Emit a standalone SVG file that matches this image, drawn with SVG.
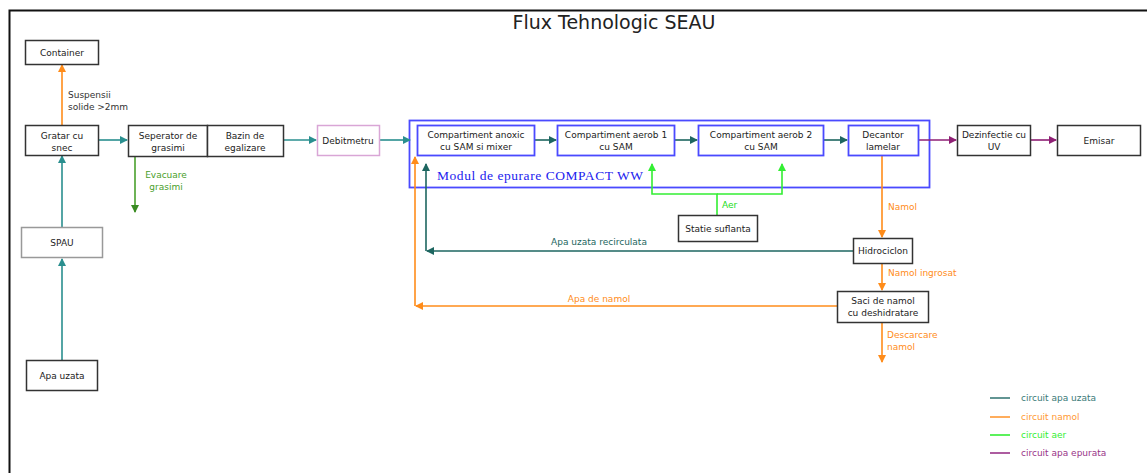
<svg xmlns="http://www.w3.org/2000/svg" width="1147" height="473" viewBox="0 0 1147 473">
<style>
.n{fill:#fff;stroke:#333;stroke-width:1.5}
.g{fill:#fff;stroke:#999;stroke-width:1.5}
.p{fill:#fff;stroke:#d9a6d6;stroke-width:1.5}
.b{fill:#fff;stroke:#4a4aff;stroke-width:1.8}
.t{font-family:"DejaVu Sans",sans-serif;font-size:9px;fill:#222;text-anchor:middle}
.l{font-family:"DejaVu Sans",sans-serif;font-size:9px}
.c{fill:none;stroke-width:1.6}
.teal{stroke:#2a8f8f}.dteal{stroke:#1d6660}.or{stroke:#ff8c1a}.gr{stroke:#33ee33}.eg{stroke:#4aa02c}.pu{stroke:#8e1f74}
</style>
<defs>
<marker id="mt" markerWidth="8" markerHeight="8" refX="7" refY="4" orient="auto" markerUnits="userSpaceOnUse"><path d="M0,0L8,4L0,8z" fill="#2a8f8f"/></marker>
<marker id="md" markerWidth="8" markerHeight="8" refX="7" refY="4" orient="auto" markerUnits="userSpaceOnUse"><path d="M0,0L8,4L0,8z" fill="#1d6660"/></marker>
<marker id="mo" markerWidth="8" markerHeight="8" refX="7" refY="4" orient="auto" markerUnits="userSpaceOnUse"><path d="M0,0L8,4L0,8z" fill="#ff8c1a"/></marker>
<marker id="mg" markerWidth="8" markerHeight="8" refX="7" refY="4" orient="auto" markerUnits="userSpaceOnUse"><path d="M0,0L8,4L0,8z" fill="#33ee33"/></marker>
<marker id="me" markerWidth="8" markerHeight="8" refX="7" refY="4" orient="auto" markerUnits="userSpaceOnUse"><path d="M0,0L8,4L0,8z" fill="#3a8a22"/></marker>
<marker id="mp" markerWidth="8" markerHeight="8" refX="7" refY="4" orient="auto" markerUnits="userSpaceOnUse"><path d="M0,0L8,4L0,8z" fill="#8e1f74"/></marker>
</defs>
<rect width="1147" height="473" fill="#fff"/>
<path d="M9.5,473V10.5H1147" fill="none" stroke="#111" stroke-width="2"/>
<text x="614" y="29" font-family="DejaVu Sans,sans-serif" font-size="19" fill="#222" text-anchor="middle">Flux Tehnologic SEAU</text>

<g id="modul">
<rect x="409.5" y="120.5" width="520" height="67" fill="none" stroke="#4a4aff" stroke-width="1.8"/>
<text x="437" y="180" font-family="Liberation Serif,serif" font-size="13.5" fill="#2222ee" textLength="206">Modul de epurare COMPACT WW</text>
</g>

<g id="connectors">
<path class="c teal" d="M62,360V259" marker-end="url(#mt)"/>
<path class="c teal" d="M62,227V156" marker-end="url(#mt)"/>
<path class="c or" d="M62,125V65" marker-end="url(#mo)"/>
<path class="c teal" d="M99,140H127" marker-end="url(#mt)"/>
<path class="c eg" d="M135,157V212" marker-end="url(#me)"/>
<path class="c teal" d="M283,140H316" marker-end="url(#mt)"/>
<path class="c teal" d="M379,140H410" marker-end="url(#mt)"/>
<path class="c dteal" d="M534,140H556" marker-end="url(#md)"/>
<path class="c dteal" d="M674,140H697" marker-end="url(#md)"/>
<path class="c dteal" d="M823,140H847" marker-end="url(#md)"/>
<path class="c pu" d="M918,140H956" marker-end="url(#mp)"/>
<path class="c pu" d="M1030,140H1056" marker-end="url(#mp)"/>
<path class="c gr" d="M717,215V194H652V164" marker-end="url(#mg)"/>
<path class="c gr" d="M717,194H782V164" marker-end="url(#mg)"/>
<path class="c or" d="M882,156V237" marker-end="url(#mo)"/>
<path class="c dteal" d="M853,251H427" marker-end="url(#md)"/>
<path class="c dteal" d="M426,251V164" marker-end="url(#md)"/>
<path class="c or" d="M882,263V290" marker-end="url(#mo)"/>
<path class="c or" d="M837,306H416" marker-end="url(#mo)"/>
<path class="c or" d="M415,306V157" marker-end="url(#mo)"/>
<path class="c or" d="M882,322V362" marker-end="url(#mo)"/>
<text class="l" x="68" y="98" fill="#333">Suspensii</text>
<text class="l" x="68" y="110" fill="#333">solide &gt;2mm</text>
<text class="l" x="166" y="178" fill="#4aa02c" text-anchor="middle">Evacuare</text>
<text class="l" x="166" y="190" fill="#4aa02c" text-anchor="middle">grasimi</text>
<text class="l" x="722" y="208" fill="#22dd22">Aer</text>
<text class="l" x="888" y="210" fill="#ff8c1a">Namol</text>
<text class="l" x="599" y="245" fill="#1d6660" text-anchor="middle">Apa uzata recirculata</text>
<text class="l" x="888" y="276" fill="#ff8c1a">Namol ingrosat</text>
<text class="l" x="599" y="302" fill="#ff8c1a" text-anchor="middle">Apa de namol</text>
<text class="l" x="887" y="338" fill="#ff8c1a">Descarcare</text>
<text class="l" x="887" y="350" fill="#ff8c1a">namol</text>
</g>

<g id="container"><rect class="n" x="25.5" y="40.5" width="73" height="24"/><text class="t" x="62" y="55.5">Container</text></g>
<g id="gratar"><rect class="n" x="25.5" y="125.5" width="73" height="30"/><text class="t" x="62" y="138.5">Gratar cu</text><text class="t" x="62" y="150.5">snec</text></g>
<g id="separator"><rect class="n" x="128.5" y="125.5" width="79" height="31"/><text class="t" x="168" y="138.5">Seperator de</text><text class="t" x="168" y="150.5">grasimi</text></g>
<g id="bazin"><rect class="n" x="207.5" y="125.5" width="76" height="31"/><text class="t" x="245" y="138.5">Bazin de</text><text class="t" x="245" y="150.5">egalizare</text></g>
<g id="spau"><rect class="g" x="21.5" y="227.5" width="81" height="30"/><text class="t" x="62" y="245.5" fill="#666">SPAU</text></g>
<g id="apa-uzata"><rect class="n" x="26.5" y="360.5" width="71" height="30"/><text class="t" x="62" y="378.5">Apa uzata</text></g>
<g id="debitmetru"><rect class="p" x="317.5" y="125.5" width="62" height="30"/><text class="t" x="348" y="144">Debitmetru</text></g>
<g id="anoxic"><rect class="b" x="417.5" y="125.5" width="117" height="30"/><text class="t" x="476" y="137.5">Compartiment anoxic</text><text class="t" x="476" y="149.5">cu SAM si mixer</text></g>
<g id="aerob1"><rect class="b" x="557.5" y="125.5" width="117" height="30"/><text class="t" x="616" y="137.5">Compartiment aerob 1</text><text class="t" x="616" y="149.5">cu SAM</text></g>
<g id="aerob2"><rect class="b" x="698.5" y="125.5" width="125" height="30"/><text class="t" x="761" y="137.5">Compartiment aerob 2</text><text class="t" x="761" y="149.5">cu SAM</text></g>
<g id="decantor"><rect class="b" x="848.5" y="125.5" width="70" height="30"/><text class="t" x="883" y="137.5">Decantor</text><text class="t" x="883" y="149.5">lamelar</text></g>
<g id="dezinfectie"><rect class="n" x="957.5" y="125.5" width="73" height="30"/><text class="t" x="994" y="137.5">Dezinfectie cu</text><text class="t" x="994" y="149.5">UV</text></g>
<g id="emisar"><rect class="n" x="1057.5" y="125.5" width="83" height="30"/><text class="t" x="1099" y="143.5">Emisar</text></g>
<g id="statie"><rect class="n" x="678.5" y="215.5" width="79" height="26"/><text class="t" x="718" y="231.5">Statie suflanta</text></g>
<g id="hidrociclon"><rect class="n" x="853.5" y="238.5" width="59" height="25"/><text class="t" x="883" y="254">Hidrociclon</text></g>
<g id="saci"><rect class="n" x="837.5" y="291.5" width="91" height="31"/><text class="t" x="883" y="304">Saci de namol</text><text class="t" x="883" y="316">cu deshidratare</text></g>

<g id="legend">
<path d="M990,398H1010" stroke="#3a7a78" stroke-width="1.6"/>
<path d="M990,417H1010" stroke="#ff9933" stroke-width="1.6"/>
<path d="M990,435H1010" stroke="#33ee33" stroke-width="1.6"/>
<path d="M990,453H1010" stroke="#993388" stroke-width="1.6"/>
<text class="l" x="1021" y="401" fill="#3a7a78">circuit apa uzata</text>
<text class="l" x="1021" y="420" fill="#ff9933">circuit namol</text>
<text class="l" x="1021" y="438" fill="#33ee33">circuit aer</text>
<text class="l" x="1021" y="456" fill="#993388">circuit apa epurata</text>
</g>
</svg>
